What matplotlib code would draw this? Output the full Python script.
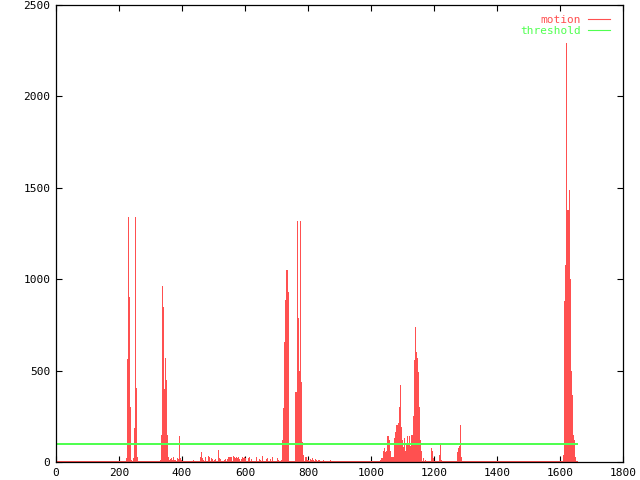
import numpy as np
import matplotlib
matplotlib.use("Agg")
from matplotlib import pyplot as plt
from matplotlib.lines import Line2D

# frame-by-frame motion values
n_frames = 1656
threshold = 100

# dense bursts: start frame + one value per frame
burst_a_start = 222
burst_a = [10, 20, 60, 300, 563, 563, 1340, 926, 926, 900,
           700, 330, 300, 40, 20, 10, 5, 10, 5, 0,
           0, 0, 0, 5, 20, 40, 186, 170, 494, 440,
           1340, 407, 400, 180, 30, 10, 5]

burst_b_start = 330
burst_b = [5, 10, 20, 40, 150, 300, 400, 500, 963, 850,
           700, 658, 400, 300, 166, 200, 400, 570, 450, 400,
           268, 150, 100, 50, 30, 20, 15, 5, 0, 8,
           10, 0, 5, 15, 10, 0, 20, 10, 5, 10,
           0, 5, 30, 15, 0, 10, 5, 0, 10, 0,
           5, 0, 0, 8, 0, 20, 10, 0, 15, 60,
           142, 40, 25, 10, 20, 5, 0, 10, 0, 5]

burst_d_start = 716
burst_d = [20, 60, 120, 120, 200, 295, 295, 295, 450, 658,
           658, 658, 886, 886, 886, 1050, 1050, 1050, 930, 930,
           930, 300, 10]

burst_e_start = 758
burst_e = [20, 100, 385, 385, 385, 385, 1320, 788, 788, 788,
           500, 226, 202, 226, 200, 500, 1320, 300, 440, 440,
           440, 300, 111, 111, 111, 40, 20, 10]

burst_f_start = 1030
burst_f = [10, 20, 5, 10, 5, 10, 20, 30, 40, 60,
           77, 77, 77, 50, 40, 55, 55, 55, 30, 60,
           100, 120, 142, 142, 142, 142, 120, 120, 120, 60,
           25, 25, 25, 20, 15, 20, 30, 30, 30, 30,
           30, 20, 40, 80, 130, 166, 166, 166, 150, 120,
           202, 202, 202, 180, 150, 213, 213, 213, 190, 150,
           300, 421, 421, 200, 190, 190, 150, 120, 90, 60,
           40, 30, 50, 80, 110, 130, 100, 60, 40, 30,
           60, 90, 100, 140, 120, 80, 50, 30, 60, 100,
           130, 140, 110, 80, 60, 90, 120, 150, 140, 100,
           120, 150, 180, 200, 250, 300, 400, 450, 560, 600,
           740, 600, 600, 420, 570, 570, 350, 490, 490, 410,
           410, 300, 200, 160, 120, 100, 93, 93, 60, 20]

burst_g_start = 1608
burst_g = [5, 10, 20, 40, 80, 300, 880, 880, 700, 1080,
           1080, 900, 2290, 1340, 1380, 1340, 1300, 1380, 1340, 1380,
           1490, 1380, 1200, 1000, 800, 600, 500, 160, 160, 160,
           120, 366, 150, 120, 120, 120, 100, 90, 60, 30]

# isolated small frames
noise_frames = [436, 456, 458, 461, 463, 468, 472, 481, 484, 487,
                492, 496, 502, 506, 515, 518, 521, 532, 535, 543,
                546, 549, 553, 557, 561, 565, 568, 571, 574, 577,
                581, 587, 590, 594, 598, 601, 608, 613, 619, 634,
                643, 647, 653, 666, 670, 680, 686, 700, 704, 713,
                790, 792, 793, 794, 797, 800, 802, 805, 808, 812,
                815, 818, 822, 825, 832, 836, 842, 848, 856, 870,
                1165, 1170, 1192, 1193, 1195, 1196, 1217, 1220, 1223,
                1274, 1276, 1279, 1282, 1284, 1285]
noise_values = [10, 20, 30, 53, 20, 10, 25, 35, 25, 25,
                20, 15, 10, 15, 66, 20, 15, 10, 15, 15,
                25, 30, 25, 30, 35, 30, 20, 30, 20, 25,
                15, 15, 30, 20, 25, 20, 20, 30, 15, 25,
                15, 10, 35, 15, 20, 15, 25, 20, 10, 10,
                15, 30, 25, 20, 10, 12, 8, 15, 10, 20,
                10, 8, 15, 10, 12, 10, 8, 12, 6, 10,
                20, 10, 75, 60, 60, 20, 38, 105, 11,
                56, 78, 87, 93, 202, 30]

frames = np.arange(n_frames)
motion = np.zeros(n_frames)
for start, vals in [(burst_a_start, burst_a), (burst_b_start, burst_b),
                    (burst_d_start, burst_d), (burst_e_start, burst_e),
                    (burst_f_start, burst_f), (burst_g_start, burst_g)]:
    motion[start:start + len(vals)] = vals
motion[noise_frames] = noise_values

red = '#ff5050'
green = '#50ff50'

plt.rcParams['font.family'] = ['DejaVu Sans Mono']
plt.rcParams['font.size'] = 8

fig = plt.figure(figsize=(6.4, 4.8), dpi=100)
ax = fig.add_axes([56 / 640, 18 / 480, 567 / 640, 457 / 480])

ax.vlines(frames, 0, motion, colors=red, linewidth=0.45, antialiased=False)
ax.hlines(0, frames[0], frames[-1], colors=red, linewidth=0.8,
          antialiased=False)
ax.plot(frames, np.full(n_frames, threshold), color=green, linewidth=0.8,
        antialiased=False)

ax.set_xlim(0, 1800)
ax.set_ylim(0, 2500)
ax.set_xticks(np.arange(0, 1801, 200))
ax.set_yticks(np.arange(0, 2501, 500))
ax.tick_params(direction='in', length=4, width=0.8, top=True, right=True,
               labelsize=8, pad=4)
for s in ax.spines.values():
    s.set_linewidth(0.9)

handles = [Line2D([], [], color=red, linewidth=0.8, antialiased=False),
           Line2D([], [], color=green, linewidth=0.8, antialiased=False)]
leg = ax.legend(handles, ['motion', 'threshold'], loc='upper right',
                bbox_to_anchor=(0.977, 0.978),
                frameon=False, markerfirst=False, handlelength=2.0,
                handletextpad=0.6, labelspacing=0.1, borderpad=0,
                borderaxespad=0, fontsize=8)
for t, c in zip(leg.get_texts(), [red, green]):
    t.set_color(c)

fig.savefig('out.png', dpi=100)
